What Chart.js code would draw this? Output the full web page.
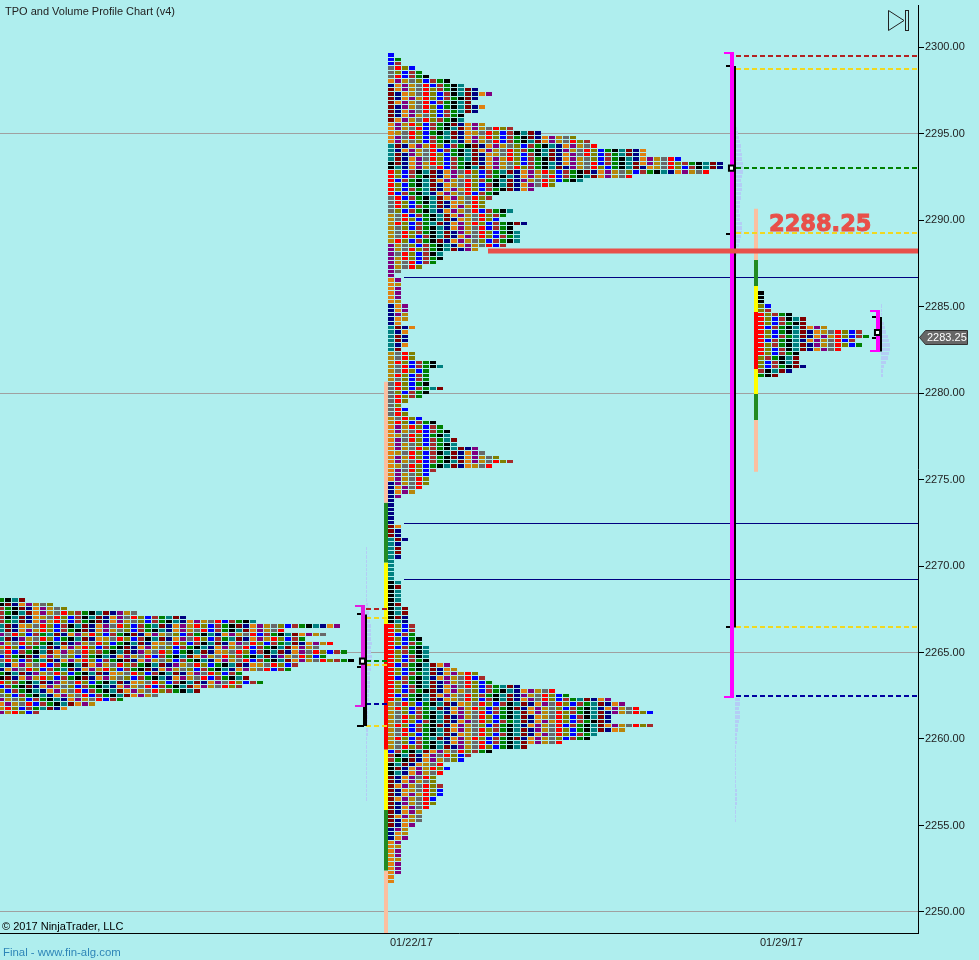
<!DOCTYPE html>
<html>
<head>
<meta charset="utf-8">
<title>TPO and Volume Profile Chart (v4)</title>
<script src="https://cdn.jsdelivr.net/npm/chart.js@4"></script>
<style>
  html, body { margin: 0; padding: 0; background: #AFEEEE; }
  canvas { display: block; }
</style>
</head>
<body>
<canvas id="chart" width="979" height="960"></canvas>
<script>
// --- data ---
const priceTicks = [2250, 2255, 2260, 2265, 2270, 2275, 2280, 2285, 2290, 2295, 2300];
const dateLabels = ['01/22/17', '01/29/17'];
const tickSize = 0.25;
const lastPrice = 2283.25;
const supportPrice = 2288.2;
const supportLabel = '2288.25';

// TPO count per price row, top row first
const leftTop = 2268;
const leftRows = [4,8,10,20,27,37,49,41,47,44,48,46,50,47,51,43,42,35,36,38,35,29,23,18,14,10,6];
const midTop = 2299.5;
const midRows = [
  1,2,2,4,5,6,9,11,13,15,13,12,14,13,11,11,14,18,22,27,29,30,37,37,42,48,48,46,35,28,24,21,16,15,14,14,
  18,17,16,20,18,19,19,19,17,13,8,8,7,5,2,1,
  2,2,2,2,2,2,3,3,3,3,2,4,3,3,3,3,2,4,4,7,8,6,6,6,6,8,6,5,3,2,3,3,
  5,7,8,9,9,10,10,13,14,16,18,15,7,6,6,6,5,4,2,1,1,1,1,1,1,2,2,2,3,2,2,2,2,1,1,1,1,1,2,2,
  2,2,2,2,3,3,3,3,4,4,4,5,5,6,6,6,6,9,10,13,14,15,19,24,26,32,34,36,38,32,32,38,34,30,29,25,20,15,12,11,
  8,9,8,7,7,8,8,8,7,7,6,5,5,5,4,3,3,3,2,2,2,2,2,2,2,2,1,1
];
const rightTop = 2285.75;
const rightRows = [1,1,1,2,2,5,7,7,10,15,16,14,15,12,6,6,6,7,5,3];

// volume per price row
const leftVolTop = 2271;
const leftVol = [1,1,1,1,1,1,1,1,1,1,1,1,1,2,3,3,4,4,5,5,5,5,6,5,5,6,6,5,5,4,4,4,4,3,3,3,2,2,2,2,2,2,2,2,1,1,1,1,1,1,1,1,1,1,1,1,1,1,1];
const midVolTop = 2295.25;
const midVol = [1,2,3,4,5,5,6,6,7,7,7,6,5,6,6,5,5,4,4,3,4,4,6,6,6,5,4,3,2,1];
const midVol2Top = 2262.25;
const midVol2 = [5,5,4,5,5,4,3,3,2,2,2,1,1,1,1,1,1,1,1,1,1,2,2,2,2,1,1,1,1];
const rightVolTop = 2285;
const rightVol = [1,1,1,1,3,4,5,7,8,9,9,8,7,5,3,2,2];

// key levels of each session
const leftLevels = [2267.5, 2267, 2264.5, 2264.25, 2262, 2260.75];
const midLevels = [2299.5, 2298.75, 2293, 2289.25, 2266.5, 2262.5];
const navyLevels = [2286.68, 2272.46, 2269.2];

// range brackets: high, low / black range: high, low, open tick / point of control
const leftRange = [2267.7, 2261.9];
const leftBlack = [2267.2, 2260.75, 2264.15];
const leftPoc = 2264.5;
const midRange = [2299.65, 2262.45];
const midBlack = [2298.9, 2266.45, 2289.2];
const midPoc = 2293;
const rightRange = [2284.75, 2282.4];
const rightBlack = [2284.4, 2282.4, 2283.2];
const rightPoc = 2283.5;

// period bars beside the profiles, price edges from top to bottom
const midBarEdges = [2280.65, 2273.65, 2270.2, 2266.65, 2259.4, 2255.9, 2252.4, 2248.79];
const rightBarEdges = [2290.65, 2287.69, 2286.18, 2284.68, 2281.39, 2279.94, 2278.44, 2275.45];

// --- styles ---
const periodColours = ['#800000','#000080','#E08010','#800080','#B8860B','#696969','#FF0000','#808000','#0000FF','#A52A2A','#008000','#000000','#008080'];
const barColours = ['#FBBFA0','#228B22','#FFFF00','#FF0000','#FFFF00','#228B22','#FBBFA0'];
const RED_DASH = '#B22222', YEL_DASH = '#F0D820', GRN_DASH = '#008000', BLU_DASH = '#0000A0';
const leftLevelColours = [RED_DASH, YEL_DASH, GRN_DASH, YEL_DASH, BLU_DASH, YEL_DASH];
const midLevelColours = [RED_DASH, YEL_DASH, GRN_DASH, YEL_DASH, YEL_DASH, BLU_DASH];
// first cell colour per row as [rows, colour]
const leftFirst = [[1,10],[1,11],[4,9],[2,12],[1,3],[1,12],[1,3],[1,4],[1,5],[1,8],[1,5],[1,12],[1,1],[1,10],[1,11],[1,6],[1,8],[1,7],[1,5],[1,3],[1,2],[1,4],[1,3]];
const midFirst = [[3,8],[3,5],[1,2],[1,1],[8,0],[5,2],[4,12],[2,11],[6,6],[4,5],[7,4],[8,3],[6,2],[5,1],[6,12],[7,4],[8,5],[2,4],[13,2],[10,1],[3,0],[10,12],[10,11],[18,6],[11,4],[1,8],[2,9],[3,11],[12,0],[3,1],[10,2]];
const rightFirst = [[3,11],[2,7],[10,6],[3,7],[1,9],[1,10]];

const SLOT_PX = 7;                 // one TPO column on the x axis
const ROW_PX = 4.325;              // one price row on screen
const slot = px => px / SLOT_PX;   // x axis position given as screen distance from the left edge
const X_MAX = slot(918);

// --- a scatter variant that draws every point as one crisp TPO block ---
class TpoElement extends Chart.PointElement {
  static id = 'tpo';
  static defaults = { ...Chart.PointElement.defaults };
  draw(ctx) {
    const top = Math.round(this.y - ROW_PX / 2);
    const bottom = Math.round(this.y + ROW_PX / 2);
    ctx.fillStyle = this.options.backgroundColor;
    ctx.fillRect(Math.round(this.x), top, this.options.radius, bottom - top - 1);
  }
}
class TpoController extends Chart.ScatterController {
  static id = 'tpo';
  static defaults = { dataElementType: 'tpo' };
}
Chart.register(TpoElement, TpoController);

// --- build the datasets ---
const cellsByColour = periodColours.map(() => []);

function expandRuns(runs) {
  const out = [];
  runs.forEach(([n, c]) => { for (let i = 0; i < n; i++) out.push(c); });
  return out;
}

function addProfile(rows, top, startPx, runs) {
  const first = expandRuns(runs);
  rows.forEach((count, r) => {
    const price = top - r * tickSize;
    for (let c = 0; c < count; c++) {
      // periods run through the colour list left to right, some periods miss a row
      const missed = Math.floor((c + (r * 5) % 7) / 6);
      const colour = (first[r] + c + (c > 0 ? missed : 0)) % periodColours.length;
      cellsByColour[colour].push({ x: slot(startPx) + c, y: price });
    }
  });
}
addProfile(leftRows, leftTop, -2, leftFirst);
addProfile(midRows, midTop, 388, midFirst);
addProfile(rightRows, rightTop, 758, rightFirst);

const datasets = [];
cellsByColour.forEach((cells, i) => {
  datasets.push({ type: 'tpo', data: cells, backgroundColor: periodColours[i], radius: 6, order: 6 });
});

function addVolume(vol, top, startPx) {
  datasets.push({
    type: 'tpo',
    data: vol.map((w, r) => ({ x: slot(startPx), y: top - r * tickSize, w: w })),
    backgroundColor: '#B4CDF5',
    radius: ctx => ctx.raw ? ctx.raw.w : 1,
    order: 7
  });
}
addVolume(leftVol, leftVolTop, 366);
addVolume(midVol, midVolTop, 736);
addVolume(midVol2, midVol2Top, 735);
addVolume(rightVol, rightVolTop, 881);

function addLine(x0, y0, x1, y1, colour, width, order, extra) {
  datasets.push(Object.assign({
    type: 'scatter', showLine: true, pointRadius: 0,
    data: [{ x: slot(x0), y: y0 }, { x: slot(x1), y: y1 }],
    borderColor: colour, borderWidth: width, borderCapStyle: 'butt', order: order
  }, extra || {}));
}

function addBar(edges, xPx) {
  for (let i = 0; i < edges.length - 1; i++) {
    addLine(xPx, edges[i], xPx, edges[i + 1], barColours[i], 4, 5);
  }
}
addBar(midBarEdges, 386);
addBar(rightBarEdges, 756);

leftLevels.forEach((p, i) => addLine(366, p, 388, p, leftLevelColours[i], 2, 4, { borderDash: [5, 3], snapY: 0 }));
midLevels.forEach((p, i) => addLine(736, p, 918, p, midLevelColours[i], 2, 4, { borderDash: [5, 3], snapY: 0 }));
navyLevels.forEach(p => addLine(404, p, 918, p, '#000080', 1, 8, { snapY: 0.5 }));

function addBracket(range, black, poc, magenta, xPx, blackW, blackX) {
  addLine(xPx, range[0], xPx, range[1], magenta, 4, 3);
  addLine(xPx - 8, range[0], xPx + 2, range[0], magenta, 2, 3, { snapY: 0 });
  addLine(xPx - 8, range[1], xPx + 2, range[1], magenta, 2, 3, { snapY: 0 });
  addLine(blackX, black[0], blackX, black[1], '#000000', blackW, 3.5);
  black.forEach(p => addLine(xPx - 6, p, xPx + 1, p, '#000000', 2, 3.5, { snapY: 0 }));
  datasets.push({
    type: 'scatter', data: [{ x: slot(xPx - 0.5), y: poc }],
    pointStyle: 'rect', pointRadius: 3.6, pointBorderWidth: 2,
    pointBackgroundColor: '#F4FFFF', pointBorderColor: '#000000', order: 2
  });
}
addBracket(leftRange, leftBlack, leftPoc, '#E01EE0', 363, 4, 365);
addBracket(midRange, midBlack, midPoc, '#FF00FF', 732, 2, 735);
addBracket(rightRange, rightBlack, rightPoc, '#FF00FF', 878, 2, 881);

addLine(488, supportPrice, 918, supportPrice, '#E8504A', 5, 1, { snapY: 0 });

// --- small plugins ---
const snapPlugin = {
  id: 'snapLines',
  afterDatasetsUpdate(chart) {
    chart.data.datasets.forEach((ds, i) => {
      if (ds.snapY === undefined) return;
      chart.getDatasetMeta(i).data.forEach(pt => { pt.y = Math.round(pt.y - ds.snapY) + ds.snapY; });
    });
  }
};

const textPlugin = {
  id: 'chartTexts',
  afterDraw(chart) {
    const ctx = chart.ctx;
    const yScale = chart.scales.y;
    ctx.save();
    ctx.textBaseline = 'middle';
    ctx.textAlign = 'left';

    ctx.font = '11px "Liberation Sans"';
    ctx.fillStyle = '#222222';
    ctx.fillText('TPO and Volume Profile Chart (v4)', 5, 12);
    ctx.fillStyle = '#000000';
    ctx.fillText('\u00A9 2017 NinjaTrader, LLC', 2, 927);
    ctx.fillStyle = '#2E86B8';
    ctx.font = '11.4px "Liberation Sans"';
    ctx.fillText('Final - www.fin-alg.com', 3, 953);

    // support label
    ctx.font = 'bold 22.5px "DejaVu Sans"';
    ctx.fillStyle = '#E8504A';
    ctx.strokeStyle = '#E8504A';
    ctx.lineWidth = 1;
    ctx.fillText(supportLabel, 769, 225);
    ctx.strokeText(supportLabel, 769, 225);

    // last price flag on the axis
    const y = Math.round(yScale.getPixelForValue(lastPrice));
    ctx.fillStyle = '#666666';
    ctx.strokeStyle = '#333333';
    ctx.beginPath();
    ctx.moveTo(919.5, y + 0.5);
    ctx.lineTo(925.5, y - 6.5);
    ctx.lineTo(967.5, y - 6.5);
    ctx.lineTo(967.5, y + 7.5);
    ctx.lineTo(925.5, y + 7.5);
    ctx.closePath();
    ctx.fill();
    ctx.stroke();
    ctx.font = '11px "Liberation Sans"';
    ctx.fillStyle = '#FFFFFF';
    ctx.fillText(lastPrice.toFixed(2), 927, y + 0.5);

    // skip-to-end button
    ctx.strokeStyle = '#222222';
    ctx.lineWidth = 1;
    ctx.beginPath();
    ctx.moveTo(888.5, 10.5);
    ctx.lineTo(904, 20.5);
    ctx.lineTo(888.5, 30.5);
    ctx.closePath();
    ctx.stroke();
    ctx.strokeRect(905.5, 10.5, 3, 20);
    ctx.restore();
  }
};

new Chart(document.getElementById('chart').getContext('2d'), {
  type: 'scatter',
  data: { datasets: datasets },
  plugins: [snapPlugin, textPlugin],
  options: {
    responsive: false,
    animation: false,
    events: [],
    layout: { autoPadding: false, padding: { top: 5 } },
    plugins: { legend: { display: false }, tooltip: { enabled: false }, title: { display: false } },
    scales: {
      x: {
        type: 'linear',
        min: 0,
        max: X_MAX,
        afterFit: s => { s.height = 27; s.paddingLeft = 0; s.paddingRight = 0; },
        afterBuildTicks: s => { s.ticks = dateLabels.map((d, i) => ({ value: slot([390, 760][i]) })); },
        grid: { display: false, drawTicks: false },
        border: { color: '#000000', width: 1 },
        ticks: {
          autoSkip: false, maxRotation: 0, align: 'start', padding: 3,
          color: '#222222', font: { family: 'Liberation Sans', size: 11 },
          callback: (v, i) => dateLabels[i]
        }
      },
      y: {
        type: 'linear',
        position: 'right',
        min: 2248.786,
        max: 2302.428,
        afterFit: s => { s.width = 61; s.paddingTop = 0; s.paddingBottom = 0; },
        afterBuildTicks: s => { s.ticks = priceTicks.map(v => ({ value: v })); },
        grid: {
          color: c => (c.tick.value % 15 === 0 ? '#A0A0A0' : 'rgba(0,0,0,0)'),
          tickColor: '#000000', tickLength: 6, lineWidth: 1
        },
        border: { color: '#000000', width: 1 },
        ticks: {
          padding: 1, color: '#222222',
          font: { family: 'Liberation Sans', size: 11 },
          callback: v => v.toFixed(2)
        }
      }
    }
  }
});
</script>
</body>
</html>
